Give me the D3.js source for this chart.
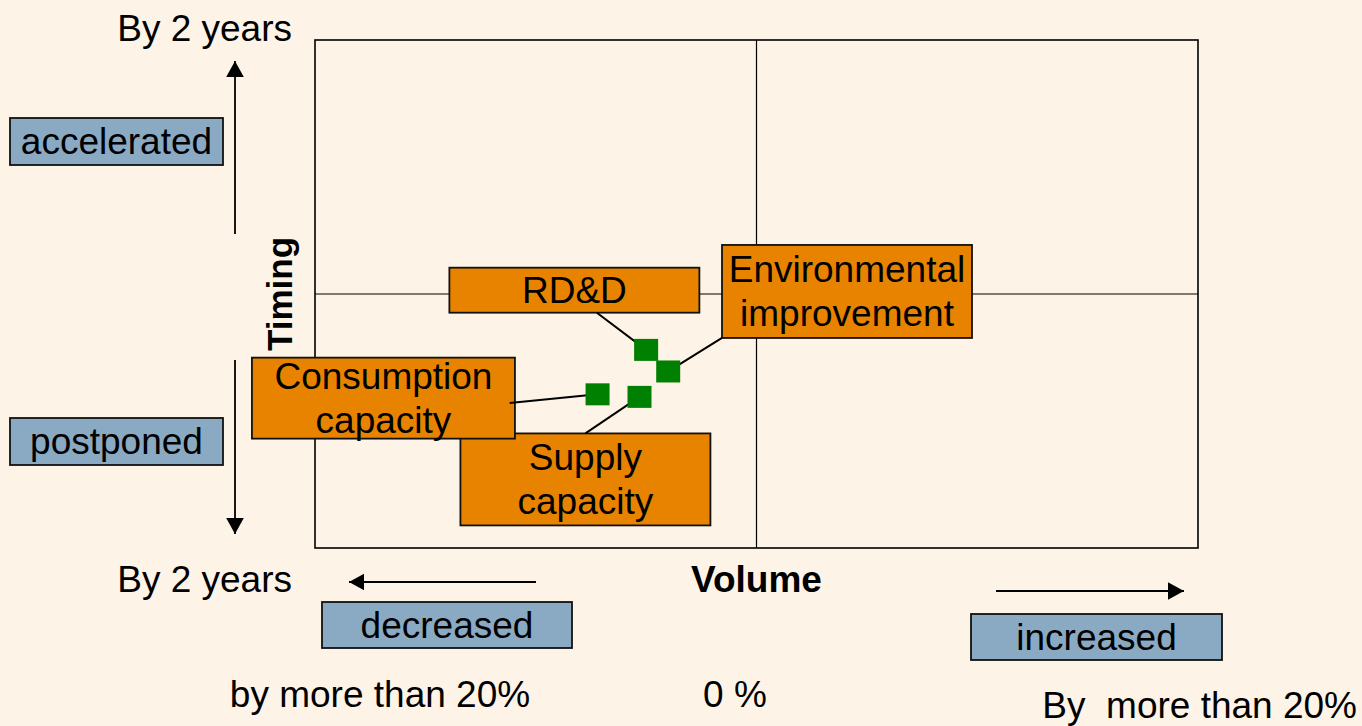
<!DOCTYPE html>
<html>
<head>
<meta charset="utf-8">
<script src="https://cdn.jsdelivr.net/npm/d3@7"></script>
<style>
  html, body { margin: 0; padding: 0; background: #FDF3E7; }
  svg { display: block; }
  text { font-family: "Liberation Sans", Arial, sans-serif; fill: #000; }
</style>
</head>
<body>
<svg id="chart" width="1362" height="726"></svg>
<script>
// ---- data ----
const items = ["RD&D", "Environmental improvement", "Consumption capacity", "Supply capacity"];
const itemLines = [["RD&D"], ["Environmental", "improvement"], ["Consumption", "capacity"], ["Supply", "capacity"]];
const volumeChange = [-10.0, -8.0, -14.4, -10.6];   // % change in volume
const timingChange = [-0.44, -0.61, -0.79, -0.81];  // years (positive = accelerated)
const volumeDomain = [-40, 40];
const timingDomain = [-2, 2];
const yLabels = ["By 2 years", "By 2 years"];
const yCategories = ["accelerated", "postponed"];
const xCategories = ["decreased", "increased"];
const xLabels = ["by more than 20%", "0 %", "By  more than 20%"];

// ---- layout ----
const W = 1362, H = 726;
const plot = { left: 315, right: 1198, top: 40, bottom: 548 };
const svg = d3.select("#chart");
svg.append("rect").attr("width", W).attr("height", H).attr("fill", "#FDF3E7");

const x = d3.scaleLinear().domain(volumeDomain).range([plot.left, plot.right]);
const y = d3.scaleLinear().domain(timingDomain).range([plot.bottom, plot.top]);

const FS = 37;
const ORANGE = "#E88300", BLUE = "#8AAAC4", GREEN = "#008000";

// frame
svg.append("rect")
  .attr("x", plot.left).attr("y", plot.top)
  .attr("width", plot.right - plot.left).attr("height", plot.bottom - plot.top)
  .attr("fill", "none").attr("stroke", "#000").attr("stroke-width", 1.6);
// quadrant lines
svg.append("line").attr("x1", x(0)).attr("x2", x(0)).attr("y1", plot.top).attr("y2", plot.bottom)
  .attr("stroke", "#000").attr("stroke-width", 1.2);
svg.append("line").attr("x1", plot.left).attr("x2", plot.right).attr("y1", y(0)).attr("y2", y(0))
  .attr("stroke", "#000").attr("stroke-width", 1.2);

// label boxes (center in data units, size in px, anchor as fraction of box)
const labelLayout = [
  { cx: -16.5, cy: 0.03,  w: 250, h: 45, ax: 0.59, ay: 1.0 },
  { cx: 8.2,   cy: 0.02,  w: 250, h: 93, ax: 0.0,  ay: 1.0 },
  { cx: -33.8, cy: -0.82, w: 263, h: 81, ax: 0.98, ay: 0.56 },
  { cx: -15.5, cy: -1.46, w: 250, h: 92, ax: 0.5,  ay: 0.0 }
];
const pts = items.map((name, i) => ({
  name, lines: itemLines[i], vx: volumeChange[i], ty: timingChange[i], L: labelLayout[i]
}));

// draw boxes: order so that consumption overlaps supply as in reference
const drawOrder = [3, 2, 0, 1];
drawOrder.forEach(i => {
  const d = pts[i];
  const bx = x(d.L.cx) - d.L.w / 2, by = y(d.L.cy) - d.L.h / 2;
  const g = svg.append("g");
  g.append("rect").attr("x", bx).attr("y", by).attr("width", d.L.w).attr("height", d.L.h)
    .attr("fill", ORANGE).attr("stroke", "#111").attr("stroke-width", 1.8);
  const n = d.lines.length, lh = 44;
  d.lines.forEach((t, k) => {
    g.append("text")
      .attr("x", bx + d.L.w / 2)
      .attr("y", by + d.L.h / 2 + (k - (n - 1) / 2) * lh)
      .attr("dy", "0.35em")
      .attr("text-anchor", "middle")
      .attr("font-size", FS)
      .text(t);
  });
});

// connector lines
svg.append("g").selectAll("line").data(pts).join("line")
  .attr("x1", d => x(d.L.cx) - d.L.w / 2 + d.L.ax * d.L.w)
  .attr("y1", d => y(d.L.cy) - d.L.h / 2 + d.L.ay * d.L.h)
  .attr("x2", d => x(d.vx)).attr("y2", d => y(d.ty))
  .attr("stroke", "#000").attr("stroke-width", 2);

// points
const SQ_W = 24, SQ_H = 22;
svg.append("g").selectAll("rect").data(pts).join("rect")
  .attr("x", d => x(d.vx) - SQ_W / 2).attr("y", d => y(d.ty) - SQ_H / 2)
  .attr("width", SQ_W).attr("height", SQ_H).attr("fill", GREEN);

// arrows
function arrow(x1, y1, x2, y2, size) {
  svg.append("line").attr("x1", x1).attr("y1", y1).attr("x2", x2).attr("y2", y2)
    .attr("stroke", "#000").attr("stroke-width", 1.8);
  const ang = Math.atan2(y2 - y1, x2 - x1);
  const L = size, Wd = size * 0.55;
  const bx = x2 - L * Math.cos(ang), by = y2 - L * Math.sin(ang);
  const px = -Math.sin(ang) * Wd, py = Math.cos(ang) * Wd;
  svg.append("path")
    .attr("d", `M${x2},${y2} L${bx + px},${by + py} L${bx - px},${by - py} Z`)
    .attr("fill", "#000");
}
arrow(235, 234, 235, 61, 16);
arrow(235, 360, 235, 534, 16);
arrow(536, 582, 349, 582, 15);
arrow(996, 591, 1184, 591, 16);

// blue category boxes
const blueBoxes = [
  { t: yCategories[0], x: 10,  y: 118, w: 213, h: 47 },
  { t: yCategories[1], x: 10,  y: 418, w: 213, h: 47 },
  { t: xCategories[0], x: 322, y: 602, w: 250, h: 46 },
  { t: xCategories[1], x: 971, y: 614, w: 251, h: 46 }
];
blueBoxes.forEach(b => {
  svg.append("rect").attr("x", b.x).attr("y", b.y).attr("width", b.w).attr("height", b.h)
    .attr("fill", BLUE).attr("stroke", "#111").attr("stroke-width", 1.8);
  svg.append("text").attr("x", b.x + b.w / 2).attr("y", b.y + b.h / 2).attr("dy", "0.35em")
    .attr("text-anchor", "middle").attr("font-size", FS).text(b.t);
});

// axis texts
svg.append("text").attr("x", 292).attr("y", 41).attr("text-anchor", "end").attr("font-size", FS).text(yLabels[0]);
svg.append("text").attr("x", 292).attr("y", 592).attr("text-anchor", "end").attr("font-size", FS).text(yLabels[1]);
svg.append("text").attr("x", x(0)).attr("y", 592).attr("text-anchor", "middle")
  .attr("font-size", FS).attr("font-weight", "bold").text("Volume");
svg.append("text").attr("transform", `translate(292,${y(0)}) rotate(-90)`)
  .attr("text-anchor", "middle").attr("font-size", FS - 2).attr("font-weight", "bold").text("Timing");
svg.append("text").attr("x", 380).attr("y", 707).attr("text-anchor", "middle").attr("font-size", FS).text(xLabels[0]);
svg.append("text").attr("x", 735).attr("y", 707).attr("text-anchor", "middle").attr("font-size", FS).text(xLabels[1]);
svg.append("text").attr("x", 1357).attr("y", 718).attr("text-anchor", "end").attr("font-size", FS)
  .attr("xml:space", "preserve").style("white-space", "pre").text(xLabels[2]);
</script>
</body>
</html>
